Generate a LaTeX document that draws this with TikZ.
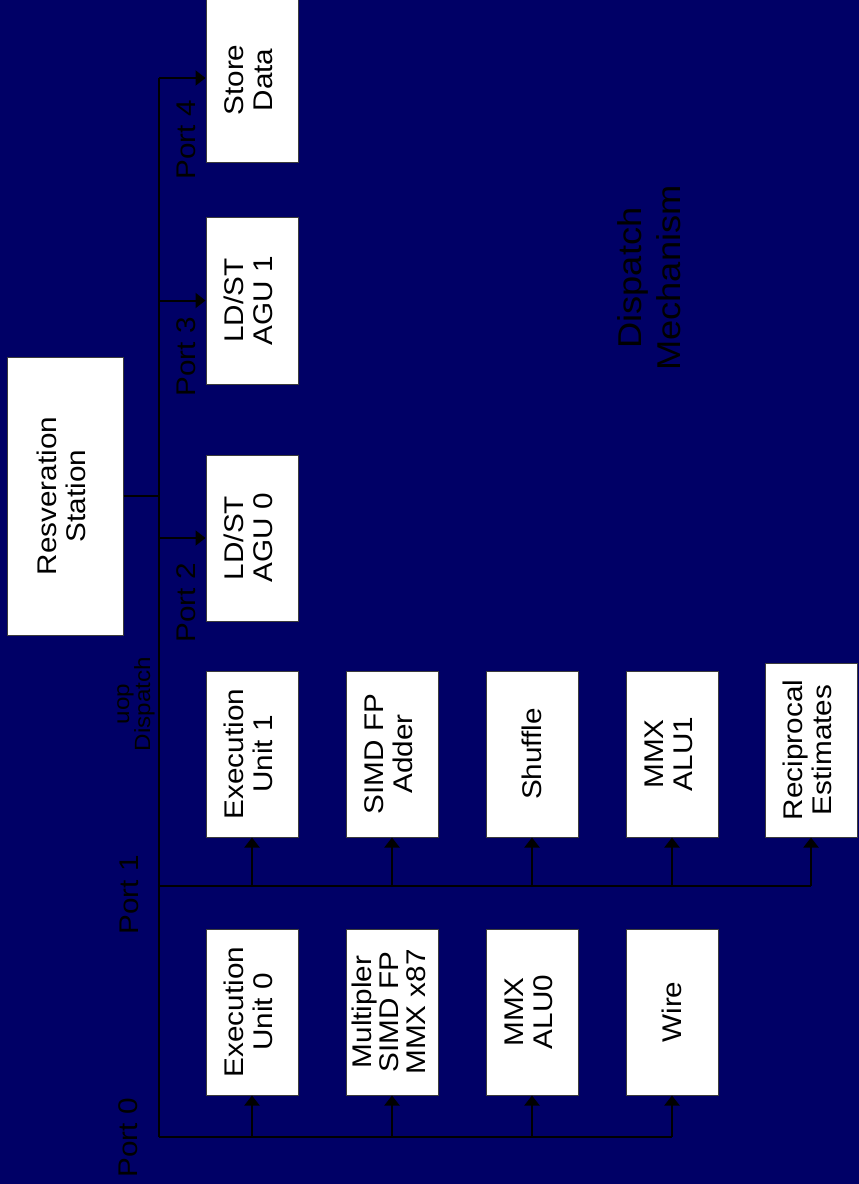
\documentclass[tikz,border=0pt]{standalone}
\usepackage{fontspec}
\usetikzlibrary{arrows.meta}
\newfontfamily\lab[FakeStretch=1.1]{Liberation Sans}
\definecolor{navy}{RGB}{0,0,102}
\definecolor{boxline}{RGB}{60,60,60}
\begin{document}
\begin{tikzpicture}[x=1pt,y=-1pt,
  unit/.style={draw=boxline,line width=1pt,fill=white,minimum width=92pt,minimum height=166pt,inner sep=0pt,
    text=black,align=center,font=\lab\fontsize{27}{31}\selectfont},
  lbl/.style={rotate=90,text=black,align=center,font=\lab\fontsize{27}{31}\selectfont},
  wire/.style={draw=black,line width=2pt},
  arr/.style={wire,-{Triangle[length=10pt,width=15pt]}}]
\fill[navy] (0,0) rectangle (859,1184);
\useasboundingbox (0,0) rectangle (859,1184);
% reservation station
\node[unit,minimum width=116pt,minimum height=278pt] (rs) at (65,496) {\rotatebox{90}{\begin{tabular}{c}Resveration\\[-2pt]Station\end{tabular}}};
% column 1
\node[unit,minimum height=164pt] (sd) at (252,80) {\rotatebox{90}{\begin{tabular}{c}Store\\[-2pt]Data\end{tabular}}};
\node[unit,minimum height=167pt] (agu1) at (252,300.5) {\rotatebox{90}{\begin{tabular}{c}LD/ST\\[-2pt]AGU 1\end{tabular}}};
\node[unit] (agu0) at (252,538) {\rotatebox{90}{\begin{tabular}{c}LD/ST\\[-2pt]AGU 0\end{tabular}}};
\node[unit] (eu1) at (252,754) {\rotatebox{90}{\begin{tabular}{c}Execution\\[-2pt]Unit 1\end{tabular}}};
\node[unit] (eu0) at (252,1012) {\rotatebox{90}{\begin{tabular}{c}Execution\\[-2pt]Unit 0\end{tabular}}};
% column 2
\node[unit] (add) at (392,754) {\rotatebox{90}{\begin{tabular}{c}SIMD FP\\[-2pt]Adder\end{tabular}}};
\node[unit] (mul) at (392,1012) {\rotatebox{90}{\begin{tabular}{c}Multipler\\[-4pt]SIMD FP\\[-4pt]MMX x87\end{tabular}}};
% column 3
\node[unit] (shf) at (532,754) {\rotatebox{90}{Shuffle}};
\node[unit] (alu0) at (532,1012) {\rotatebox{90}{\begin{tabular}{c}MMX\\[-2pt]ALU0\end{tabular}}};
% column 4
\node[unit] (alu1) at (672,754) {\rotatebox{90}{\begin{tabular}{c}MMX\\[-2pt]ALU1\end{tabular}}};
\node[unit] (wire) at (672,1012) {\rotatebox{90}{Wire}};
% column 5
\node[unit,minimum height=174pt] (rcp) at (811,750) {\rotatebox{90}{\begin{tabular}{c}Reciprocal\\[-2pt]Estimates\end{tabular}}};
% labels
\node[lbl] (l0) at (128,1138) {Port 0};
\node[lbl] (l1) at (129,895) {Port 1};
\node[lbl,font=\lab\fontsize{22}{21}\selectfont] (ld) at (136,704) {uop\\Dispatch};
\node[lbl] (l2) at (186,603) {Port 2};
\node[lbl] (l3) at (186,357) {Port 3};
\node[lbl] (l4) at (186,140) {Port 4};
\node[lbl,font=\lab\fontsize{33}{39}\selectfont] (dm) at (649,278) {Dispatch\\Mechanism};
% bus
\coordinate (j) at (159,496);
\coordinate (bt) at (159,78);
\coordinate (bb) at (159,1137);
\coordinate (p3) at (159,300.5);
\coordinate (p2) at (159,538);
\coordinate (p1) at (159,886);
\draw[wire] (rs.east) -- (j);
\draw[wire] (bt) -- (bb);
\draw[arr] (bt) -- (sd.west |- bt);
\draw[arr] (p3) -- (agu1.west);
\draw[arr] (p2) -- (agu0.west);
\draw[wire] (p1) -- (rcp.south |- p1);
\draw[wire] (bb) -- (wire.south |- bb);
\foreach \n in {eu1,add,shf,alu1,rcp} \draw[arr] (\n.south |- p1) -- (\n.south);
\foreach \n in {eu0,mul,alu0,wire} \draw[arr] (\n.south |- bb) -- (\n.south);
\end{tikzpicture}
\end{document}
